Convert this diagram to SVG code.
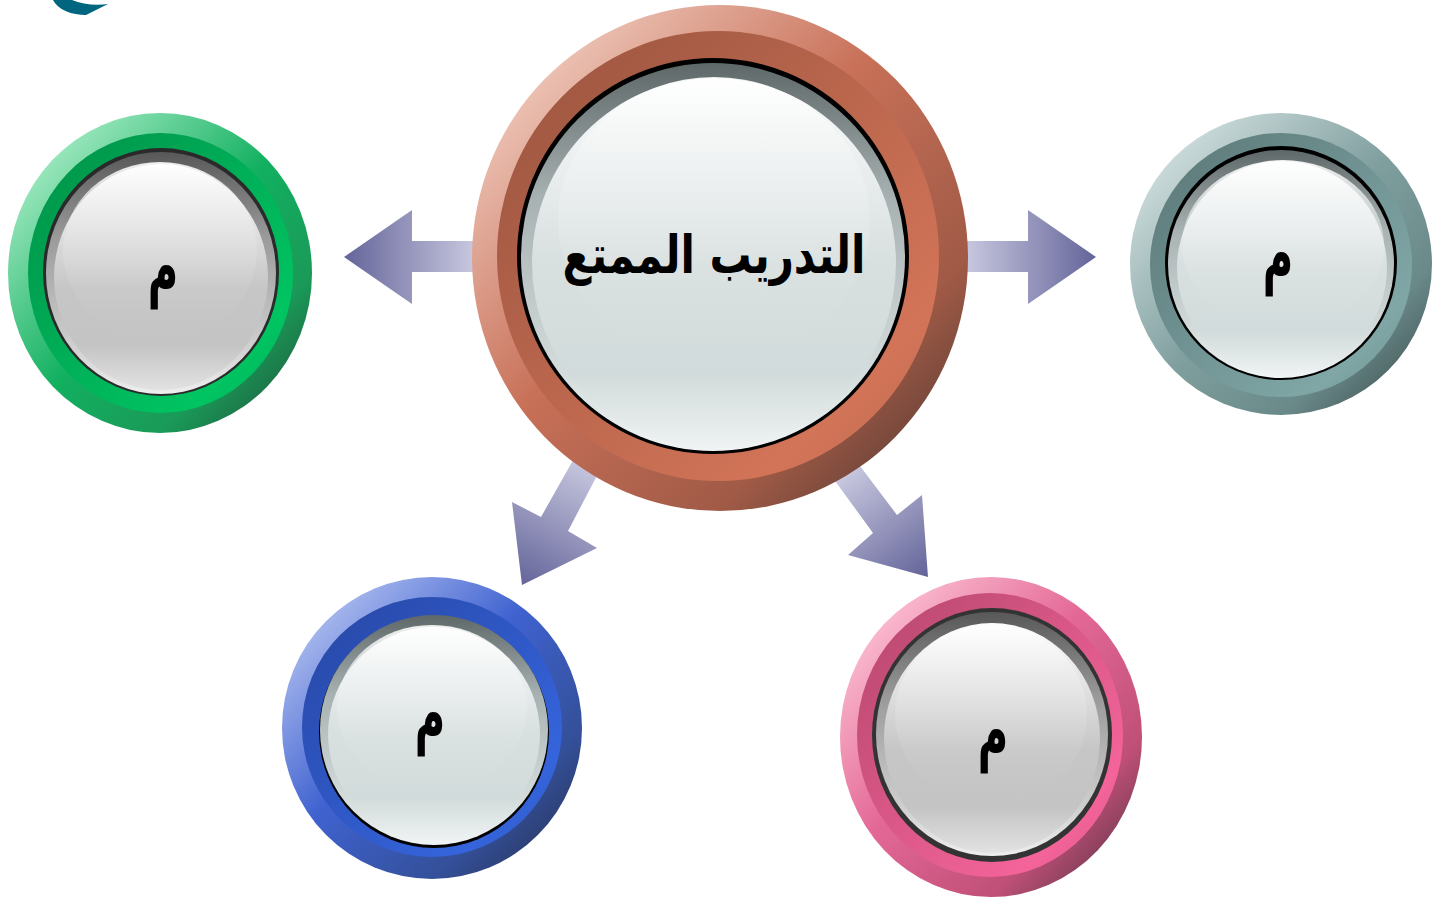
<svg xmlns="http://www.w3.org/2000/svg" width="1433" height="900" viewBox="0 0 1433 900">
<style>
.lbl{font-family:"DejaVu Sans","Noto Sans",sans-serif;font-weight:bold;fill:#000;text-anchor:middle}
.big{font-size:50px}
.small{font-size:52px}
</style>
<defs>
<linearGradient id="gOuterGreen" x1="0" y1="0" x2="1" y2="1"><stop offset="0.1" stop-color="#a8ecc6"/><stop offset="0.5" stop-color="#12b060"/><stop offset="0.75" stop-color="#1a9a58"/><stop offset="0.95" stop-color="#1f5a3c"/></linearGradient>
<linearGradient id="gBandGreen" x1="0" y1="0" x2="1" y2="1"><stop offset="0" stop-color="#009048"/><stop offset="0.8" stop-color="#00c462"/><stop offset="1" stop-color="#00b058"/></linearGradient>
<linearGradient id="gOuterGray" x1="0" y1="0" x2="1" y2="1"><stop offset="0.1" stop-color="#d2e0e0"/><stop offset="0.5" stop-color="#7f9e9e"/><stop offset="0.75" stop-color="#6a8a8a"/><stop offset="0.95" stop-color="#3f4f4f"/></linearGradient>
<linearGradient id="gBandGray" x1="0" y1="0" x2="1" y2="1"><stop offset="0" stop-color="#5a7676"/><stop offset="0.8" stop-color="#80a6a6"/><stop offset="1" stop-color="#6f9494"/></linearGradient>
<linearGradient id="gOuterBlue" x1="0" y1="0" x2="1" y2="1"><stop offset="0.1" stop-color="#b2c0f0"/><stop offset="0.45" stop-color="#3f62d0"/><stop offset="0.75" stop-color="#34509a"/><stop offset="0.95" stop-color="#283458"/></linearGradient>
<linearGradient id="gBandBlue" x1="0" y1="0" x2="1" y2="1"><stop offset="0" stop-color="#2746a4"/><stop offset="0.8" stop-color="#3564dc"/><stop offset="1" stop-color="#2e56c0"/></linearGradient>
<linearGradient id="gOuterPink" x1="0" y1="0" x2="1" y2="1"><stop offset="0.1" stop-color="#fcc2d4"/><stop offset="0.45" stop-color="#e46896"/><stop offset="0.75" stop-color="#c05078"/><stop offset="0.95" stop-color="#5e3446"/></linearGradient>
<linearGradient id="gBandPink" x1="0" y1="0" x2="1" y2="1"><stop offset="0" stop-color="#b4466c"/><stop offset="0.8" stop-color="#f4649a"/><stop offset="1" stop-color="#d85888"/></linearGradient>
<linearGradient id="gOuterCenter" x1="0" y1="0" x2="1" y2="1"><stop offset="0.08" stop-color="#f2d0c4"/><stop offset="0.45" stop-color="#c87058"/><stop offset="0.75" stop-color="#a05a46"/><stop offset="0.95" stop-color="#553a33"/></linearGradient>
<linearGradient id="gBandCenter" x1="0" y1="0" x2="1" y2="1"><stop offset="0" stop-color="#98533e"/><stop offset="0.8" stop-color="#d27458"/><stop offset="1" stop-color="#c06a50"/></linearGradient>
<linearGradient id="gRimNeutral" x1="0" y1="0" x2="0" y2="1"><stop offset="0" stop-color="#585858"/><stop offset="0.35" stop-color="#9a9a9a"/><stop offset="0.8" stop-color="#cfcfcf"/><stop offset="1" stop-color="#eeeeee"/></linearGradient>
<linearGradient id="gFaceNeutral" x1="0" y1="0" x2="0" y2="1"><stop offset="0" stop-color="#fdfdfd"/><stop offset="0.55" stop-color="#c6c6c6"/><stop offset="0.8" stop-color="#c4c4c4"/><stop offset="1" stop-color="#e2e2e2"/></linearGradient>
<linearGradient id="gHiNeutral" x1="0" y1="0" x2="0" y2="1"><stop offset="0" stop-color="#ffffff" stop-opacity="0.9"/><stop offset="1" stop-color="#c4c4c4" stop-opacity="0"/></linearGradient>
<linearGradient id="gRimCool" x1="0" y1="0" x2="0" y2="1"><stop offset="0" stop-color="#5e6868"/><stop offset="0.35" stop-color="#a8b2b2"/><stop offset="0.8" stop-color="#d4dcdc"/><stop offset="1" stop-color="#f0f4f4"/></linearGradient>
<linearGradient id="gFaceCool" x1="0" y1="0" x2="0" y2="1"><stop offset="0" stop-color="#fbfcfc"/><stop offset="0.5" stop-color="#d8dfdf"/><stop offset="0.8" stop-color="#d2dbdb"/><stop offset="1" stop-color="#eef2f2"/></linearGradient>
<linearGradient id="gHiCool" x1="0" y1="0" x2="0" y2="1"><stop offset="0" stop-color="#ffffff" stop-opacity="0.9"/><stop offset="1" stop-color="#d4dcdc" stop-opacity="0"/></linearGradient>
<linearGradient id="aLeft" gradientUnits="userSpaceOnUse" x1="472" y1="0" x2="344" y2="0"><stop offset="0" stop-color="#c6c6de"/><stop offset="1" stop-color="#64649a"/></linearGradient>
<linearGradient id="aRight" gradientUnits="userSpaceOnUse" x1="968" y1="0" x2="1096" y2="0"><stop offset="0" stop-color="#c6c6de"/><stop offset="1" stop-color="#64649a"/></linearGradient>
<linearGradient id="aDL" gradientUnits="userSpaceOnUse" x1="585" y1="465" x2="520" y2="585"><stop offset="0" stop-color="#c6c6de"/><stop offset="1" stop-color="#64649a"/></linearGradient>
<linearGradient id="aDR" gradientUnits="userSpaceOnUse" x1="848" y1="474" x2="926" y2="577"><stop offset="0" stop-color="#c6c6de"/><stop offset="1" stop-color="#64649a"/></linearGradient>
</defs>
<rect width="1433" height="900" fill="#ffffff"/>
<path d="M53 0 C58 10 72 15 86 15 L108 4 C95 6 82 4 72 0 Z" fill="#006680"/>
<g id="connectors">
<polygon points="480,241 412,241 412,210 344,257 412,304 412,272 480,272" fill="url(#aLeft)"/>
<polygon points="960,241 1028,241 1028,210 1096,257 1028,304 1028,272 960,272" fill="url(#aRight)"/>
<polygon points="576,455 601,468 568,531 597,548 522,585 512,502 541,517" fill="url(#aDL)"/>
<polygon points="830,474 854,458 897,515 922,495 928,577 848,555 873,533" fill="url(#aDR)"/>
</g>
<g id="node-center">
<ellipse cx="720" cy="258" rx="248" ry="253" fill="url(#gOuterCenter)"/>
<ellipse cx="718" cy="256" rx="221" ry="225" fill="url(#gBandCenter)"/>
<ellipse cx="713" cy="256" rx="196" ry="198" fill="#000"/>
<ellipse cx="713" cy="257" rx="192" ry="194" fill="url(#gRimCool)"/>
<ellipse cx="714" cy="263" rx="182" ry="185" fill="url(#gFaceCool)"/>
<ellipse cx="714" cy="220" rx="156" ry="143" fill="url(#gHiCool)"/>
<text class="lbl big" transform="translate(714,273) scale(0.84,1.05)">التدريب الممتع</text>
</g>
<g id="node-left">
<ellipse cx="160" cy="273" rx="152" ry="160" fill="url(#gOuterGreen)"/>
<ellipse cx="160.5" cy="273" rx="132.5" ry="140" fill="url(#gBandGreen)"/>
<ellipse cx="161" cy="272" rx="118" ry="124" fill="#2a2a2a"/>
<ellipse cx="161" cy="273" rx="115" ry="121" fill="url(#gRimNeutral)"/>
<ellipse cx="161" cy="277" rx="107" ry="113" fill="url(#gFaceNeutral)"/>
<ellipse cx="160" cy="251" rx="97" ry="89" fill="url(#gHiNeutral)"/>
<text class="lbl small" transform="translate(163,292) scale(0.8,1.4)">م</text>
</g>
<g id="node-right">
<ellipse cx="1281" cy="264" rx="151" ry="151" fill="url(#gOuterGray)"/>
<ellipse cx="1281" cy="265" rx="131" ry="132" fill="url(#gBandGray)"/>
<ellipse cx="1281" cy="263" rx="116" ry="117" fill="#000"/>
<ellipse cx="1281" cy="264" rx="113" ry="114" fill="url(#gRimCool)"/>
<ellipse cx="1282" cy="268" rx="105" ry="107" fill="url(#gFaceCool)"/>
<ellipse cx="1283" cy="245" rx="101" ry="85" fill="url(#gHiCool)"/>
<text class="lbl small" transform="translate(1278,279) scale(0.8,1.4)">م</text>
</g>
<g id="node-bottom-left">
<ellipse cx="432" cy="728" rx="150" ry="151" fill="url(#gOuterBlue)"/>
<ellipse cx="432" cy="727" rx="130" ry="130" fill="url(#gBandBlue)"/>
<ellipse cx="434" cy="732" rx="115" ry="116" fill="#000"/>
<ellipse cx="434" cy="730" rx="114" ry="115" fill="url(#gRimCool)"/>
<ellipse cx="434" cy="734" rx="106" ry="107" fill="url(#gFaceCool)"/>
<ellipse cx="432" cy="708" rx="95" ry="83" fill="url(#gHiCool)"/>
<text class="lbl small" transform="translate(430,739) scale(0.8,1.4)">م</text>
</g>
<g id="node-bottom-right">
<ellipse cx="991" cy="737" rx="151" ry="160" fill="url(#gOuterPink)"/>
<ellipse cx="990" cy="735" rx="133" ry="142" fill="url(#gBandPink)"/>
<ellipse cx="992" cy="735" rx="120" ry="127" fill="#333"/>
<ellipse cx="992" cy="734" rx="116" ry="122" fill="url(#gRimNeutral)"/>
<ellipse cx="992" cy="738" rx="108" ry="115" fill="url(#gFaceNeutral)"/>
<ellipse cx="991" cy="715" rx="96" ry="90" fill="url(#gHiNeutral)"/>
<text class="lbl small" transform="translate(993,756) scale(0.8,1.4)">م</text>
</g>
</svg>
